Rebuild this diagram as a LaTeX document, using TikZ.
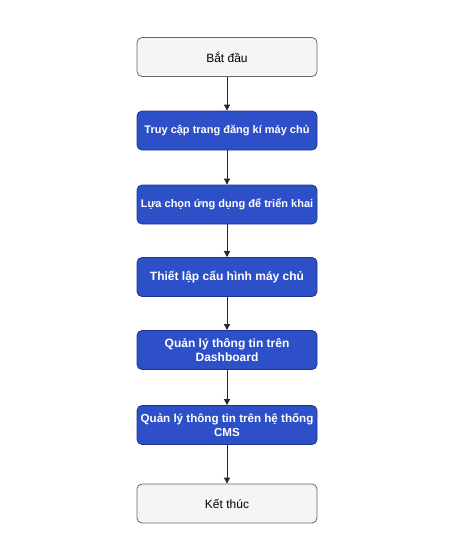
\documentclass[tikz,border=0pt]{standalone}
\usepackage{fontspec}
\setmainfont{Liberation Sans}
\usetikzlibrary{arrows.meta}
\definecolor{bluefill}{HTML}{2D50C8}
\definecolor{blueline}{HTML}{1F3294}
\definecolor{grayfill}{HTML}{F5F5F5}
\definecolor{grayline}{HTML}{666666}
\tikzset{
  graybox/.style={draw=grayline, fill=grayfill, rounded corners=5pt, minimum width=180pt, minimum height=39pt, line width=0.8pt, font=\fontsize{12pt}{14pt}\selectfont, text=black, align=center},
  bluebox/.style={draw=blueline, fill=bluefill, rounded corners=5pt, minimum width=180pt, minimum height=39pt, line width=0.8pt, font=\bfseries\fontsize{11pt}{13pt}\selectfont, text=white, align=center, inner xsep=1pt},
  bigtext/.style={font=\bfseries\fontsize{12pt}{14pt}\selectfont},
  midtext/.style={font=\bfseries\fontsize{11.6pt}{14pt}\selectfont},
  conn/.style={draw=black!85, line width=0.8pt, -{Triangle[length=6pt,width=6pt]}}
}
\begin{document}
\begin{tikzpicture}[x=1pt,y=-1pt]
\useasboundingbox (0,0) rectangle (457,552);
\node[graybox] (n1) at (227,57) {Bắt đầu};
\node[bluebox] (n2) at (227,130.5) {Truy cập trang đăng kí máy chủ};
\node[bluebox] (n3) at (227,204.5) {Lựa chọn ứng dụng để triển khai};
\node[bluebox, bigtext] (n4) at (227,277) {Thiết lập cấu hình máy chủ};
\node[bluebox, bigtext] (n5) at (227,350) {Quản lý thông tin trên\\Dashboard};
\node[bluebox, midtext] (n6) at (227,425) {Quản lý thông tin trên hệ thống\\CMS};
\node[graybox] (n7) at (227,503.5) {Kết thúc};
\draw[conn] (n1) -- (n2);
\draw[conn] (n2) -- (n3);
\draw[conn] (n3) -- (n4);
\draw[conn] (n4) -- (n5);
\draw[conn] (n5) -- (n6);
\draw[conn] (n6) -- (n7);
\end{tikzpicture}
\end{document}
